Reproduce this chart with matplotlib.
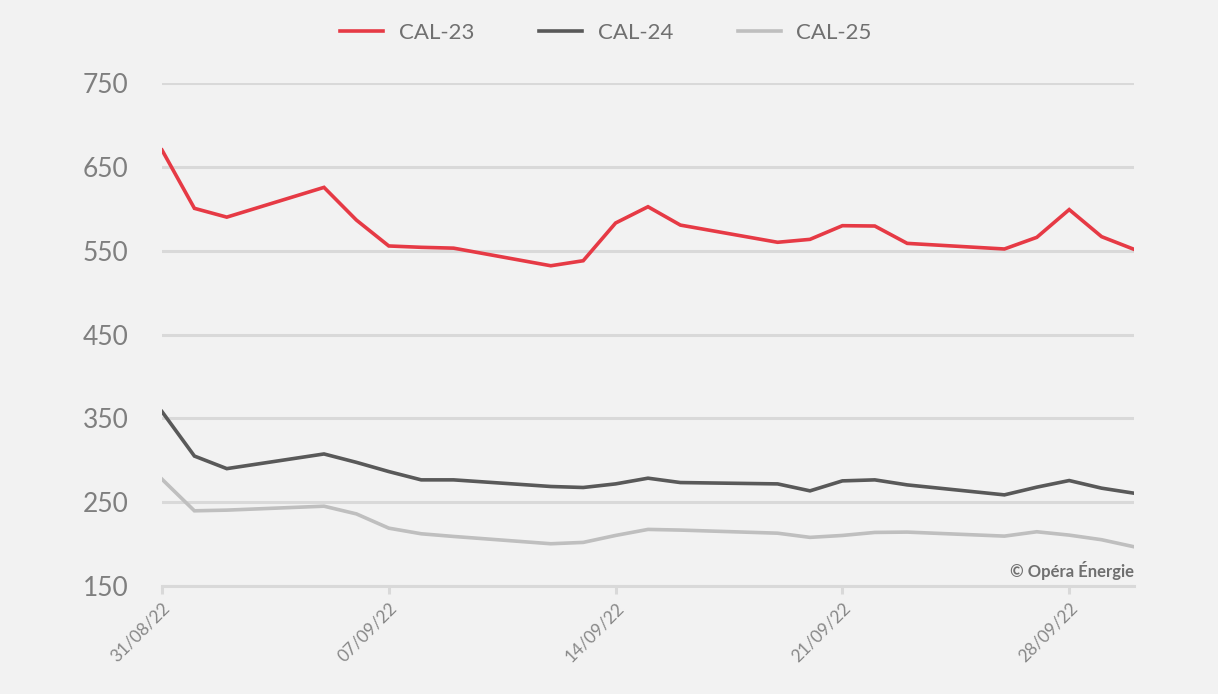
import matplotlib
matplotlib.use("Agg")
import matplotlib.pyplot as plt
import matplotlib.dates as mdates
import pandas as pd

dates = ["2022-08-31", "2022-09-01", "2022-09-02", "2022-09-05", "2022-09-06",
         "2022-09-07", "2022-09-08", "2022-09-09", "2022-09-12", "2022-09-13",
         "2022-09-14", "2022-09-15", "2022-09-16", "2022-09-19", "2022-09-20",
         "2022-09-21", "2022-09-22", "2022-09-23", "2022-09-26", "2022-09-27",
         "2022-09-28", "2022-09-29", "2022-09-30"]
cal23 = [670, 600.5, 590, 625.5, 586.5, 555.6, 554, 553, 532, 538, 583, 602.4,
         580.5, 560, 563.5, 579.8, 579.4, 558.7, 552, 565.9, 599, 566.7, 551.6]
cal24 = [358, 305, 290, 307.5, 297.5, 286.5, 276.6, 276.6, 268.7, 267.5, 271.8,
         278.6, 273.4, 271.8, 263.5, 275.4, 276.6, 270.6, 258.7, 267.9, 275.8,
         266.7, 260.7]
cal25 = [277.4, 239.7, 240.5, 245.2, 236, 219, 212.3, 209.1, 200.4, 202, 210.3,
         217.5, 216.7, 213, 208, 210.3, 213.9, 214.3, 209.5, 214.7, 210.7, 205.2,
         196.8]
series_names = ["CAL-23", "CAL-24", "CAL-25"]
series_colors = ["#e63a45", "#595959", "#bfbfbf"]
yticks = [150, 250, 350, 450, 550, 650, 750]
xtick_dates = ["2022-08-31", "2022-09-07", "2022-09-14", "2022-09-21", "2022-09-28"]

plt.rcParams['font.family'] = ['Lato', 'DejaVu Sans']

x = pd.to_datetime(dates)
bg = "#f2f2f2"
fig = plt.figure(figsize=(12.18, 6.94), dpi=100, facecolor=bg)
ax = fig.add_axes([162/1218, 1-586/694, (1134-162)/1218, (586-83)/694])
ax.set_facecolor(bg)

for vals, name, col in zip([cal23, cal24, cal25], series_names, series_colors):
    ax.plot(x, vals, color=col, lw=2.6, label=name, solid_joinstyle='miter', zorder=3)

ax.set_ylim(150, 750)
ax.set_xlim(x[0], x[-1])
ax.set_yticks(yticks)
ax.grid(axis='y', color='#d9d9d9', lw=2.2, zorder=0)
ax.grid(axis='x', visible=False)
for s in ['top', 'right', 'left']:
    ax.spines[s].set_visible(False)
ax.spines['bottom'].set_color('#d9d9d9')
ax.spines['bottom'].set_linewidth(2.2)
ax.spines['bottom'].set_zorder(0)

ax.tick_params(axis='y', length=0, pad=24, labelsize=19, labelcolor='#7f7f7f')
ax.set_xticks(pd.to_datetime(xtick_dates))
ax.xaxis.set_major_formatter(mdates.DateFormatter('%d/%m/%y'))
ax.tick_params(axis='x', length=6, width=2.2, color='#d9d9d9', pad=4,
               labelsize=12.5, labelcolor='#888888')
for lab in ax.get_xticklabels():
    lab.set_rotation(45)
    lab.set_ha('right')
    lab.set_va('top')
    lab.set_rotation_mode('anchor')

leg = fig.legend(loc='center', bbox_to_anchor=(606/1218, 1-33/694), ncol=3,
                 frameon=False, fontsize=16, handlelength=1.95, columnspacing=2.9,
                 handletextpad=0.7, labelcolor='#707070')
for t in leg.get_texts():
    t.set_fontstretch('expanded')

ax.text(1.0, 0.03, "© Opéra Énergie", transform=ax.transAxes, ha='right', va='center',
        fontsize=12, fontweight='bold', color='#6f6f6f')

fig.savefig("out.png", dpi=100, facecolor=bg)
